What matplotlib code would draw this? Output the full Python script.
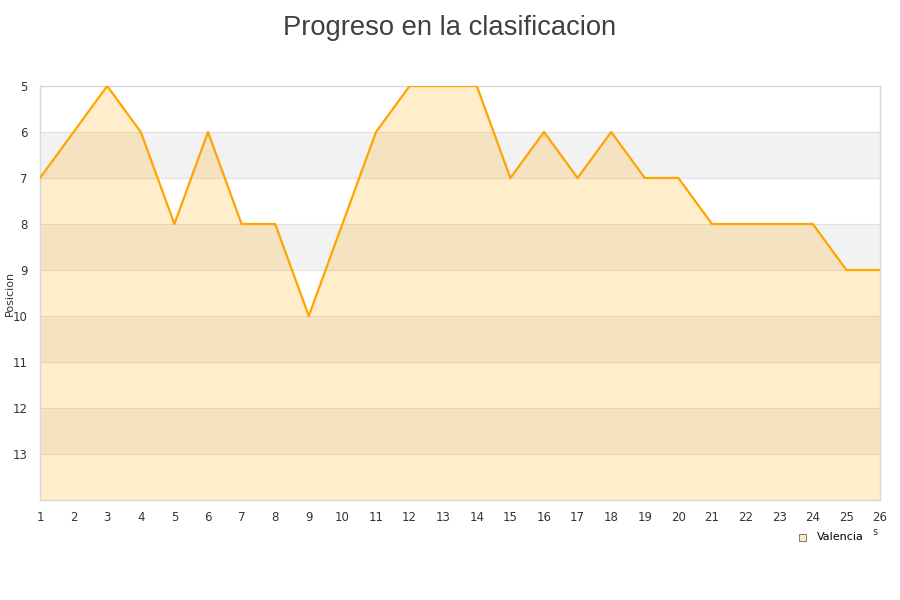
import numpy as np
import matplotlib
matplotlib.use("Agg")
import matplotlib.pyplot as plt

jornadas = list(range(1, 27))
posicion = [7, 6, 5, 6, 8, 6, 8, 8, 10, 8, 6, 5, 5, 5, 7, 6, 7, 6, 7, 7, 8, 8, 8, 8, 9, 9]
equipo = "Valencia"

fig = plt.figure(figsize=(9, 6), dpi=100)
ax = fig.add_axes([40 / 900, 100 / 600, 840 / 900, 414 / 600])

ax.set_xlim(1, 26)
ax.set_ylim(14, 5)

# alternating bands
for y0 in range(6, 14, 2):
    ax.axhspan(y0, y0 + 1, color="#f2f2f2", zorder=0, lw=0)
for y in range(6, 14):
    ax.axhline(y, color="#e0e0e0", lw=0.8, zorder=1)

ax.fill_between(jornadas, posicion, 14, color="#ffa500", alpha=0.2, lw=0, zorder=2)
ax.plot(jornadas, posicion, color="#ffa500", lw=1.6, zorder=3, label=equipo)

ax.set_xticks(jornadas)
ax.set_yticks(range(5, 14))
ax.tick_params(length=0, labelsize=8.5, colors="#333333")
ax.tick_params(axis="x", pad=8)
ax.tick_params(axis="y", pad=9)
for s in ax.spines.values():
    s.set_color("#d9d9d9")
    s.set_linewidth(1)

ax.set_ylabel("Posicion", fontsize=8, color="#333333")
ax.yaxis.set_label_coords(-0.030, 0.5)
fig.text(0.5, 0.975, "Progreso en la clasificacion", ha="center", va="top",
         fontsize=19.7, color="#404040", family="Liberation Sans")
fig.text(875 / 900, 1 - 532 / 600, "s", ha="center", va="center", fontsize=7, color="#333333")

fig.patches.append(plt.Rectangle((799 / 900, 1 - 541 / 600), 7 / 900, 7 / 600,
                                 transform=fig.transFigure, facecolor="#ffe9c0",
                                 edgecolor="#666666", lw=0.6))
fig.text(817 / 900, 1 - 537 / 600, equipo, ha="left", va="center", fontsize=8, color="#000000")

fig.savefig("out.png", dpi=100)
